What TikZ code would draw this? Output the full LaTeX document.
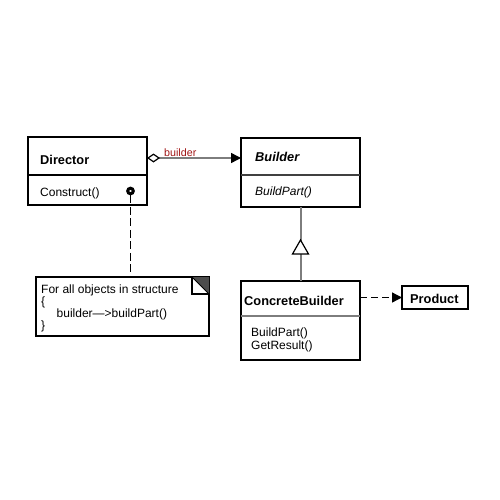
\documentclass[tikz,border=0pt]{standalone}
\usepackage{fontspec}
\setmainfont{Liberation Sans}
\usetikzlibrary{arrows.meta}
\definecolor{linkgray}{RGB}{125,125,125}
\definecolor{rolered}{RGB}{160,20,20}
\begin{document}
\begin{tikzpicture}[x=1pt,y=-1pt,
  umlbox/.style={draw=black,line width=1.2pt,fill=white,rectangle,
    inner sep=0pt,outer sep=0pt,anchor=north west},
  title/.style={anchor=base west,inner sep=0pt,font=\bfseries\fontsize{12.8}{14}\selectfont},
  member/.style={anchor=base west,inner sep=0pt,font=\fontsize{12}{14}\selectfont},
  divider/.style={line width=1.2pt},
  assoc/.style={draw=linkgray,line width=1.5pt},
  general/.style={draw=linkgray,line width=2pt},
  noteline/.style={draw=black,line width=1.3pt,dash pattern=on 8pt off 3.5pt},
  depend/.style={draw=black,line width=1.3pt,dash pattern=on 7pt off 4pt,
    -{Triangle[length=10pt,width=10pt]}},
  ring/.style={circle,draw=black,fill=white,line width=3pt,minimum size=5.6pt,inner sep=0pt}
]
\useasboundingbox (0,0) rectangle (500,500);

% Director
\node[umlbox,minimum width=119pt,minimum height=68pt] (director) at (28,137) {};
\draw[divider] (28,175) -- (147,175);
\node[title] (dirname) at (40,164) {Director};
\node[member] (dirop) at (40,196) {Construct()};

% Builder (abstract)
\node[umlbox,minimum width=119pt,minimum height=69pt] (builder) at (241,138) {};
\draw[divider,draw=black!75] (241,175) -- (360,175);
\node[title,font=\bfseries\itshape\fontsize{12.8}{14}\selectfont] (bname) at (255,161) {Builder};
\node[member,font=\itshape\fontsize{12}{14}\selectfont] (bop) at (255,195) {BuildPart()};

% ConcreteBuilder
\node[umlbox,minimum width=119pt,minimum height=79pt] (concrete) at (241,281) {};
\draw[divider,draw=linkgray] (241,316) -- (360,316);
\node[title] (cname) at (244,305) {ConcreteBuilder};
\node[member,align=left,font=\fontsize{12}{10}\selectfont,anchor=north west] (cops) at (251,328)
  {BuildPart()\\GetResult()};

% Product
\node[umlbox,minimum width=66pt,minimum height=23pt] (product) at (402,286) {};
\node[title] (pname) at (410,303) {Product};

% Note with folded corner
\node[umlbox,minimum width=173pt,minimum height=59pt] (note) at (36,277) {};
\fill[black!70] (192,277) -- (209,277) -- (209,294) -- cycle;
\draw[line width=1.2pt] (192,277) -- (192,294) -- (209,294);
\draw[line width=0.8pt] (192,277) -- (209,294);
\node[member,align=left,font=\fontsize{12}{10.7}\selectfont,anchor=north west] (notetext) at (41,284.5)
  {For all objects in structure\\
   \{\\
   \hspace*{15.5pt}builder---{}>buildPart()\\
   \}};

% Aggregation Director -> Builder
\coordinate (aggS) at ([yshift=13pt]director.east);
\draw[assoc,{Diamond[length=13pt,width=9pt,fill=white,color=black,line width=1.2pt]}-{Triangle[length=10pt,width=10pt,color=black]}]
  (aggS) -- (aggS -| builder.west);
\node[anchor=base west,inner sep=0pt,text=rolered,font=\fontsize{10.7}{12}\selectfont] (role) at (164,156.5) {builder};

% Generalization ConcreteBuilder -> Builder
\draw[general] (concrete.north) -- (builder.south);
\coordinate (genTip) at ([yshift=-33pt]builder.south);
\filldraw[fill=white,draw=black,line width=1.2pt,line join=miter] (genTip) -- ++(-8,14) -- ++(16,0) -- cycle;

% Note attached to Construct()
\node[ring] (dot) at (130.5,191) {};
\draw[noteline] (dot.south) -- (dot.south |- note.north);

% Dependency ConcreteBuilder -> Product
\draw[depend] (product.west -| concrete.east) -- (product.west);
\end{tikzpicture}
\end{document}
